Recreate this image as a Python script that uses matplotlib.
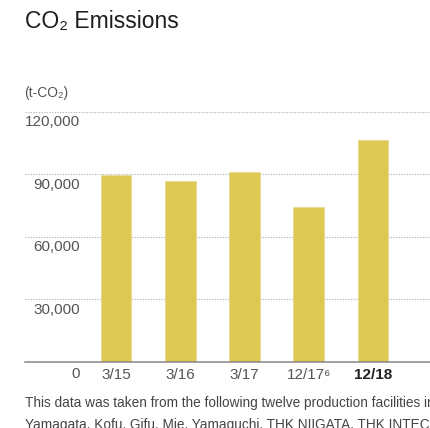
import matplotlib
matplotlib.use("Agg")
import matplotlib.pyplot as plt

plt.rcParams["font.family"] = ["Liberation Sans", "DejaVu Sans"]

# Fiscal periods and CO2 emissions (t-CO2)
periods = ["3/15", "3/16", "3/17", "12/17\u2076", "12/18"]
emissions = [89800, 86600, 90900, 74300, 106300]
y_ticks = [30000, 60000, 90000, 120000]
y_labels = ["30,000", "60,000", "90,000", "120,000"]

bar_color = "#DCC853"
grid_color = "#BBBBBB"
label_color = "#555555"

fig = plt.figure(figsize=(4.3, 4.28), dpi=100)
ax = fig.add_axes([25 / 430, 66.5 / 428, 405 / 430, 249.8 / 428])

x = list(range(len(periods)))
ax.bar(x, emissions, width=0.48, color=bar_color, edgecolor="#E8DB92",
       linewidth=0.6, zorder=3)

ax.set_xlim(-1.416, 4.887)
ax.set_ylim(0, 120000)

# dotted horizontal grid with labels hanging underneath
for v, lab in zip(y_ticks, y_labels):
    ax.axhline(v, color=grid_color, lw=0.8, ls=(0, (1.2, 1.2)), zorder=1)
    ax.annotate(lab, xy=(0, v), xycoords=ax.get_yaxis_transform(),
                xytext=(55 * 0.72, -10.5 * 0.72), textcoords="offset points",
                ha="right", va="center", fontsize=11, color=label_color)

ax.annotate("0", xy=(0, 0), xycoords=ax.get_yaxis_transform(),
            xytext=(55 * 0.72, -12 * 0.72), textcoords="offset points",
            ha="right", va="center", fontsize=11, color=label_color)

for s in ["top", "right", "left"]:
    ax.spines[s].set_visible(False)
ax.spines["bottom"].set_color("#888888")
ax.spines["bottom"].set_linewidth(1.1)
ax.spines["bottom"].set_zorder(4)

ax.set_yticks([])
ax.set_xticks(x)
ax.set_xticklabels(periods, fontsize=11, color=label_color)
ax.tick_params(axis="x", length=0, pad=4.5)
last = ax.get_xticklabels()[-1]
last.set_fontweight("bold")
last.set_color("#222222")

fig.text(25 / 430, 1 - 22 / 428, "CO\u2082 Emissions", fontsize=16.5,
         color="#1E1E1E", ha="left", va="center")
fig.text(24 / 430, 1 - 93 / 428, "(t-CO\u2082)", fontsize=10,
         color=label_color, ha="left", va="center")

fig.text(25 / 430, 1 - 403 / 428,
         "This data was taken from the following twelve production facilities in Japan:",
         fontsize=9.8, color="#444444", ha="left", va="center")
fig.text(25 / 430, 1 - 425 / 428,
         "Yamagata, Kofu, Gifu, Mie, Yamaguchi, THK NIIGATA, THK INTECHS, THK RHYTHM",
         fontsize=9.8, color="#444444", ha="left", va="center")

fig.savefig("out.png", dpi=100)
